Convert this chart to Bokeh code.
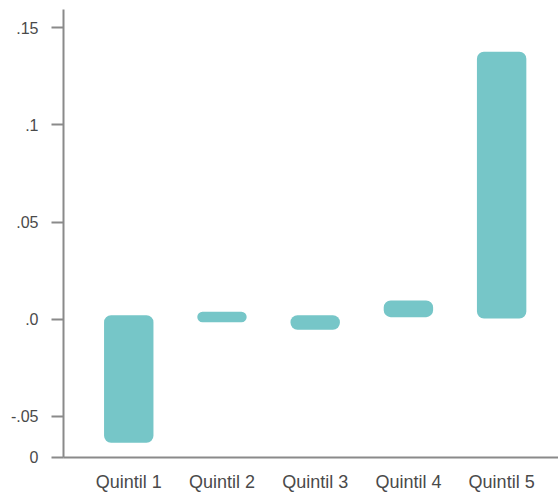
from bokeh.plotting import figure
from bokeh.models import ColumnDataSource, FixedTicker, Range1d
from bokeh.embed import file_html
from bokeh.resources import INLINE

categories = ["Quintil 1", "Quintil 2", "Quintil 3", "Quintil 4", "Quintil 5"]
bar_top = [0.0020, 0.0038, 0.0020, 0.0096, 0.1377]
bar_bottom = [-0.0637, -0.0016, -0.0055, 0.0010, 0.0003]
y_ticks = [-0.0712, -0.05, 0.0, 0.05, 0.1, 0.15]
y_tick_labels = ["0", "-.05", ".0", ".05", ".1", ".15"]

positions = list(range(1, len(categories) + 1))
src = ColumnDataSource(dict(x=positions, top=bar_top, bottom=bar_bottom, cat=categories))

p = figure(width=558, height=496, output_backend="svg", toolbar_location=None,
           x_range=Range1d(0.30, 5.61), y_range=Range1d(-0.0713, 0.1595),
           min_border_left=63, min_border_right=0, min_border_top=9, min_border_bottom=39)
p.outline_line_color = None
p.grid.visible = False
p.background_fill_color = "white"
p.border_fill_color = "white"

p.vbar(x="x", top="top", bottom="bottom", width=0.53, source=src,
       fill_color="#76C6C8", line_color=None, border_radius=7)

axis_gray = "#8a8a8a"
text_col = "#4a4a4a"

ya = p.yaxis[0]
ya.ticker = FixedTicker(ticks=y_ticks)
ya.major_label_overrides = {t: l for t, l in zip(y_ticks, y_tick_labels)}
ya.major_tick_out = 12
ya.major_tick_in = 0
ya.minor_tick_line_color = None
ya.axis_line_color = axis_gray
ya.axis_line_width = 2
ya.major_tick_line_color = axis_gray
ya.major_tick_line_width = 2
ya.major_label_standoff = 13
ya.major_label_text_font = "Liberation Sans"
ya.major_label_text_font_size = "16px"
ya.major_label_text_color = text_col

xa = p.xaxis[0]
xa.ticker = FixedTicker(ticks=positions)
xa.major_label_overrides = {pos: c for pos, c in zip(positions, categories)}
xa.major_tick_out = 0
xa.major_tick_in = 0
xa.minor_tick_line_color = None
xa.axis_line_color = axis_gray
xa.axis_line_width = 2
xa.major_label_standoff = 14
xa.major_label_text_font = "Liberation Sans"
xa.major_label_text_font_size = "18px"
xa.major_label_text_color = text_col

open("out.html", "w").write(file_html(p, INLINE))
